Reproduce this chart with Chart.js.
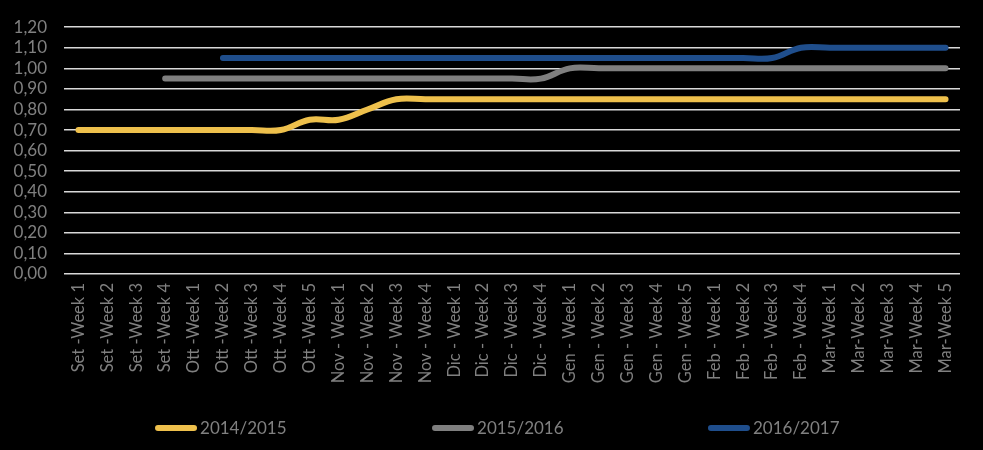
<!DOCTYPE html>
<html>
<head>
<meta charset="utf-8">
<script src="https://cdn.jsdelivr.net/npm/chart.js@4.4.1/dist/chart.umd.min.js"></script>
<style>
  html, body { margin: 0; padding: 0; background: #000; }
  #wrap { width: 983px; height: 450px; position: relative; }
</style>
</head>
<body>
<div id="wrap"><canvas id="c" width="983" height="450"></canvas></div>
<script>
const categories = [
  "Set -Week 1", "Set -Week 2", "Set -Week 3", "Set -Week 4",
  "Ott -Week 1", "Ott -Week 2", "Ott -Week 3", "Ott -Week 4", "Ott -Week 5",
  "Nov - Week 1", "Nov - Week 2", "Nov - Week 3", "Nov - Week 4",
  "Dic - Week 1", "Dic - Week 2", "Dic - Week 3", "Dic - Week 4",
  "Gen - Week 1", "Gen - Week 2", "Gen - Week 3", "Gen - Week 4", "Gen - Week 5",
  "Feb - Week 1", "Feb - Week 2", "Feb - Week 3", "Feb - Week 4",
  "Mar-Week 1", "Mar-Week 2", "Mar-Week 3", "Mar-Week 4", "Mar-Week 5"
];
const seriesNames = ["2014/2015", "2015/2016", "2016/2017"];
const values1415 = [0.70, 0.70, 0.70, 0.70, 0.70, 0.70, 0.70, 0.70, 0.75, 0.75, 0.80, 0.85, 0.85,
  0.85, 0.85, 0.85, 0.85, 0.85, 0.85, 0.85, 0.85, 0.85, 0.85, 0.85, 0.85, 0.85, 0.85, 0.85, 0.85, 0.85, 0.85];
const values1516 = [null, null, null, 0.95, 0.95, 0.95, 0.95, 0.95, 0.95, 0.95, 0.95, 0.95, 0.95,
  0.95, 0.95, 0.95, 0.95, 1.00, 1.00, 1.00, 1.00, 1.00, 1.00, 1.00, 1.00, 1.00, 1.00, 1.00, 1.00, 1.00, 1.00];
const values1617 = [null, null, null, null, null, 1.05, 1.05, 1.05, 1.05, 1.05, 1.05, 1.05, 1.05,
  1.05, 1.05, 1.05, 1.05, 1.05, 1.05, 1.05, 1.05, 1.05, 1.05, 1.05, 1.05, 1.10, 1.10, 1.10, 1.10, 1.10, 1.10];
const yMin = 0, yMax = 1.2, yStep = 0.1;

const colors = ["#EEC04C", "#7F7F7F", "#1F4E8C"];
const textColor = "#808080";
const fontFamily = "Lato, 'Open Sans', sans-serif";

const bottomLegend = {
  id: "bottomLegend",
  afterDraw(chart) {
    const ctx = chart.ctx;
    const y = 428;
    const lineW = 42, gapText = 3;
    const starts = [0.1577, 0.4395, 0.7202]; // fraction of canvas width where each item begins
    ctx.save();
    ctx.font = "17px " + fontFamily;
    chart.data.datasets.forEach((d, i) => {
      const x = chart.width * starts[i];
      ctx.strokeStyle = d.borderColor;
      ctx.lineWidth = 6;
      ctx.lineCap = "round";
      ctx.beginPath();
      ctx.moveTo(x + 3, y);
      ctx.lineTo(x + lineW - 3, y);
      ctx.stroke();
      ctx.fillStyle = textColor;
      ctx.textBaseline = "middle";
      ctx.textAlign = "left";
      ctx.fillText(d.label, x + lineW + gapText, y + 1);
    });
    ctx.restore();
  }
};

const mk = (i, data) => ({
  label: seriesNames[i],
  data: data,
  borderColor: colors[i],
  backgroundColor: colors[i],
  borderWidth: 6,
  borderCapStyle: "round",
  borderJoinStyle: "round",
  pointRadius: 0,
  pointHoverRadius: 0,
  tension: 0.4,
  fill: false,
  spanGaps: false
});

new Chart(document.getElementById("c"), {
  type: "line",
  data: {
    labels: categories,
    datasets: [mk(0, values1415), mk(1, values1516), mk(2, values1617)]
  },
  options: {
    responsive: false,
    animation: false,
    layout: { padding: { top: 9, right: 23, left: 0, bottom: 0 } },
    plugins: { legend: { display: false }, tooltip: { enabled: false } },
    scales: {
      x: {
        offset: true,
        grid: { display: false, drawTicks: false },
        border: { display: false },
        ticks: {
          autoSkip: false, minRotation: 90, maxRotation: 90,
          color: textColor, padding: 9,
          font: { family: fontFamily, size: 16.5 }
        },
        afterFit(scale) { scale.height = 176; }
      },
      y: {
        min: yMin, max: yMax,
        grid: { color: "#D9D9D9", lineWidth: 1.5, drawTicks: false },
        border: { display: false },
        ticks: {
          autoSkip: false,
          stepSize: yStep, color: textColor, padding: 17,
          font: { family: fontFamily, size: 17 },
          callback: v => v.toFixed(2).replace(".", ",")
        },
        afterFit(scale) { scale.width = 64; }
      }
    }
  },
  plugins: [bottomLegend]
});
</script>
</body>
</html>
